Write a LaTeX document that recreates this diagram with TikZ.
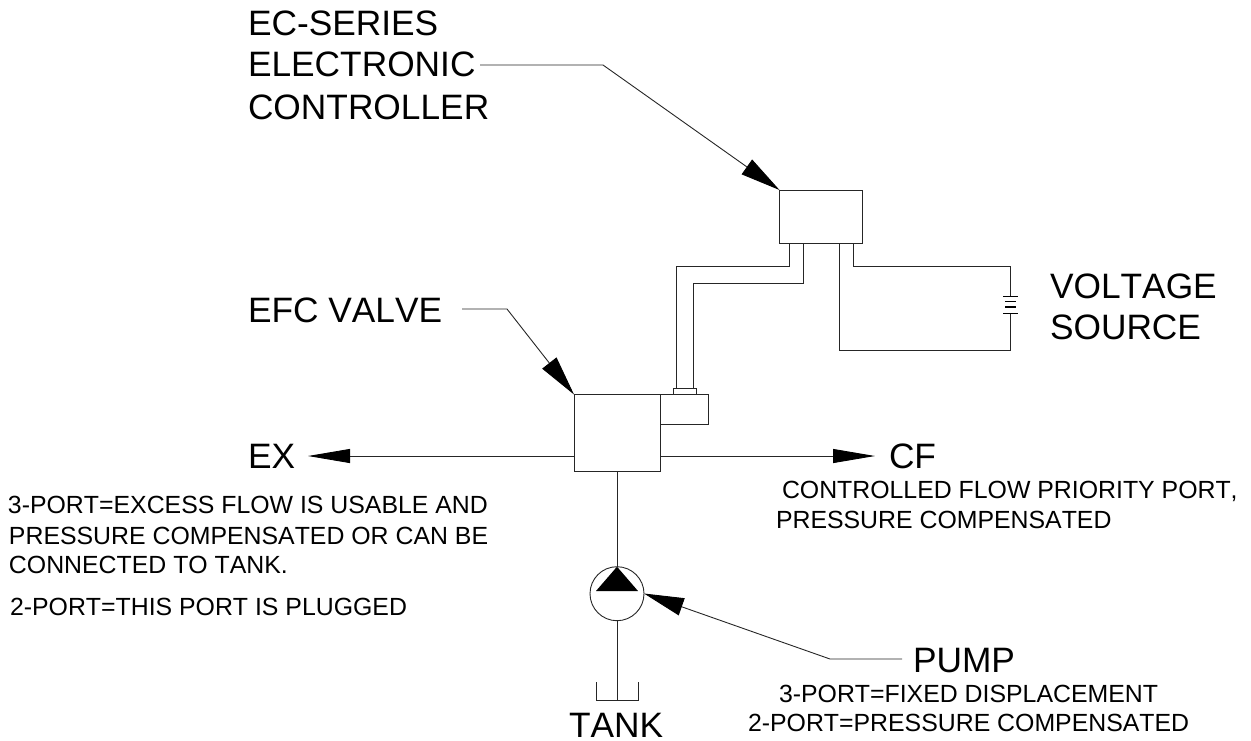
\documentclass[tikz,border=0pt]{standalone}
\usepackage{fontspec}
\setmainfont[Kerning=Off]{Liberation Sans}
\usetikzlibrary{arrows.meta,calc}
\tikzset{
  wire/.style={line width=0.9pt,black!85},
  lead/.style={wire,-{Triangle[length=40pt,width=18pt,fill=black,color=black]}},
  flow/.style={wire,-{Triangle[length=42pt,width=14pt,fill=black,color=black]}},
  box/.style={draw=black!85,line width=0.9pt,fill=white,inner sep=0pt,outer sep=0pt},
  big/.style={inner sep=0pt,outer sep=0pt,anchor=base west,font=\fontsize{35.3}{42}\selectfont},
  small/.style={inner sep=0pt,outer sep=0pt,anchor=base west,font=\fontsize{24.85}{30}\selectfont},
}
\begin{document}
\begin{tikzpicture}[x=1pt,y=-1pt]
\useasboundingbox (0,0) rectangle (1251,740);
% boxes
\node[box,anchor=north west,minimum width=83pt,minimum height=53pt] (ctrl) at (779.5,190) {};
\node[box,anchor=north west,minimum width=86pt,minimum height=77pt] (valve) at (574,394.5) {};
\node[box,anchor=north west,minimum width=48pt,minimum height=30pt] (sol) at (660,394.5) {};
\node[box,anchor=north west,minimum width=23.5pt,minimum height=6pt] (plug) at (673.3,388.5) {};
\node[box,circle,minimum size=54pt] (pump) at (617,593.7) {};
\draw[fill=black,draw=none] (617,566.7) -- (638,591) -- (596,591) -- cycle;
% coordinates
\coordinate (a1) at (789,243); \coordinate (a2) at (789,266.7); \coordinate (a3) at (676.7,266.7); \coordinate (a4) at (676.7,388.5);
\coordinate (b1) at (803,243); \coordinate (b2) at (803,283.3); \coordinate (b3) at (693,283.3); \coordinate (b4) at (693,388.5);
\coordinate (c1) at (853,243); \coordinate (c2) at (853,266.7); \coordinate (c3) at (1010,266.7); \coordinate (c4) at (1010,296.7);
\coordinate (d1) at (839,243); \coordinate (d2) at (839,350); \coordinate (d3) at (1010,350); \coordinate (d4) at (1010,313.3);
\draw[wire] (a1) -- (a2) -- (a3) -- (a4);
\draw[wire] (b1) -- (b2) -- (b3) -- (b4);
\draw[wire] (c1) -- (c2) -- (c3) -- (c4);
\draw[wire] (d1) -- (d2) -- (d3) -- (d4);
% battery
\draw[wire,black,line width=1.1pt] (1003,296.7) -- (1017.5,296.7);
\draw[wire,black,line width=1.1pt] (1005,301.5) -- (1015.5,301.5);
\draw[wire,black,line width=1.1pt] (1005,307) -- (1015.5,307);
\draw[wire,black,line width=1.1pt] (1003,313.3) -- (1017.5,313.3);
% flow lines
\coordinate (exv) at (574,456); \coordinate (cfv) at (660,456);
\coordinate (ext) at (308,456); \coordinate (cft) at (875,456);
\draw[flow] (exv) -- (ext);
\draw[flow] (cfv) -- (cft);
\draw[wire] (valve.south) -- (pump.north);
% tank
\coordinate (tl) at (596,682); \coordinate (tr) at (638,682); \coordinate (tb) at (617,700.3);
\draw[wire] (pump.south) -- (tb);
\draw[wire] (tl) -- (596,700.3) -- (638,700.3) -- (tr);
% leaders
\coordinate (l1) at (480,65); \coordinate (l1b) at (603,65);
\draw[lead] (l1) -- (l1b) -- (ctrl.north west);
\coordinate (l2) at (462,309); \coordinate (l2b) at (507,309);
\draw[lead] (l2) -- (l2b) -- (valve.north west);
\coordinate (l3) at (902,659); \coordinate (l3b) at (830,659); \coordinate (l3t) at (644,593.5);
\draw[lead] (l3) -- (l3b) -- (l3t);
% labels
\node[big] (t1) at (248,35) {EC-SERIES};
\node[big] (t2) at (248,76.5) {ELECTRONIC};
\node[big] (t3) at (248,119) {CONTROLLER};
\node[big] (t4) at (248,322) {EFC VALVE};
\node[big] (t5) at (1050,298) {VOLTAGE};
\node[big] (t6) at (1050,339) {SOURCE};
\node[big] (t7) at (248,468) {EX};
\node[big] (t8) at (889,468) {CF};
\node[big] (t9) at (913,672) {PUMP};
\node[big] (t10) at (569,737.5) {TANK};
\node[small] (s1) at (8,513) {3-PORT=EXCESS FLOW IS USABLE AND};
\node[small] (s2) at (9,544) {PRESSURE COMPENSATED OR CAN BE};
\node[small] (s3) at (9,573) {CONNECTED TO TANK.};
\node[small] (s4) at (10,615) {2-PORT=THIS PORT IS PLUGGED};
\node[small] (s5) at (782,498) {CONTROLLED FLOW PRIORITY PORT,};
\node[small] (s6) at (776,528) {PRESSURE COMPENSATED};
\node[small] (s7) at (779,702) {3-PORT=FIXED DISPLACEMENT};
\node[small] (s8) at (748,731) {2-PORT=PRESSURE COMPENSATED};
\end{tikzpicture}
\end{document}
